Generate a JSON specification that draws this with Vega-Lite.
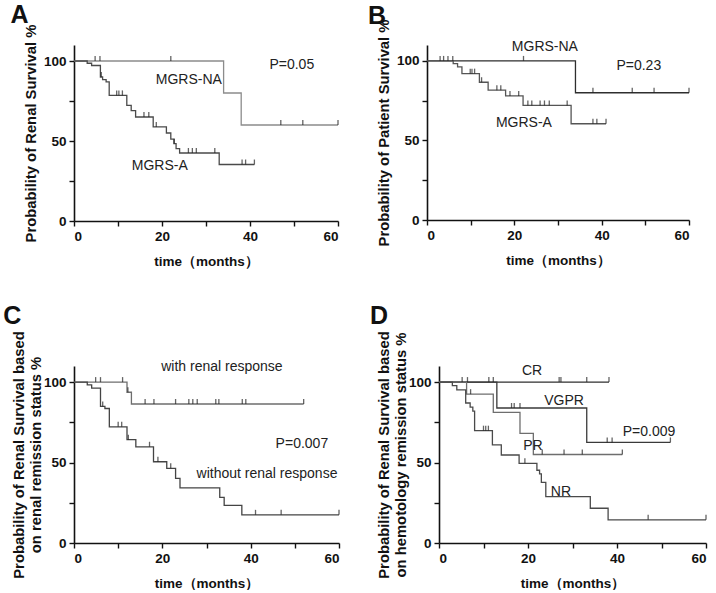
{
  "$schema": "https://vega.github.io/schema/vega-lite/v6.json",
  "padding": {"left": 3, "top": 2, "right": 0, "bottom": 0},
  "background": "white",
  "config": {
    "font": "Liberation Sans",
    "view": {"stroke": null},
    "axis": {
      "grid": false,
      "domainColor": "#111",
      "domainWidth": 1.6,
      "tickColor": "#111",
      "tickWidth": 1.4,
      "tickSize": 5,
      "labelFont": "Liberation Sans",
      "labelFontWeight": "bold",
      "labelFontSize": 13.5,
      "labelColor": "#111",
      "titleFont": "Liberation Sans",
      "titleFontWeight": "bold",
      "titleFontSize": 14.8,
      "titleColor": "#111"
    },
    "axisX": {"titleFontSize": 13.5, "labelPadding": 3, "titlePadding": 12},
    "axisY": {"labelPadding": 3, "titlePadding": 5}
  },
  "datasets": {
    "curves": [
      {"panel": "A", "group": "MGRS-NA", "t": 0, "s": 100},
      {"panel": "A", "group": "MGRS-NA", "t": 34, "s": 80},
      {"panel": "A", "group": "MGRS-NA", "t": 38, "s": 60},
      {"panel": "A", "group": "MGRS-NA", "t": 60, "s": 60},
      {"panel": "A", "group": "MGRS-A", "t": 0, "s": 100},
      {"panel": "A", "group": "MGRS-A", "t": 3, "s": 98.6},
      {"panel": "A", "group": "MGRS-A", "t": 4, "s": 97.2},
      {"panel": "A", "group": "MGRS-A", "t": 6, "s": 90},
      {"panel": "A", "group": "MGRS-A", "t": 6.5, "s": 88.3},
      {"panel": "A", "group": "MGRS-A", "t": 7.3, "s": 87},
      {"panel": "A", "group": "MGRS-A", "t": 8, "s": 78.5},
      {"panel": "A", "group": "MGRS-A", "t": 12, "s": 72.3},
      {"panel": "A", "group": "MGRS-A", "t": 13, "s": 69},
      {"panel": "A", "group": "MGRS-A", "t": 14, "s": 65},
      {"panel": "A", "group": "MGRS-A", "t": 18, "s": 58.8},
      {"panel": "A", "group": "MGRS-A", "t": 21, "s": 55},
      {"panel": "A", "group": "MGRS-A", "t": 22, "s": 51.2},
      {"panel": "A", "group": "MGRS-A", "t": 22.7, "s": 48.3},
      {"panel": "A", "group": "MGRS-A", "t": 23.2, "s": 45.2},
      {"panel": "A", "group": "MGRS-A", "t": 24, "s": 42.5},
      {"panel": "A", "group": "MGRS-A", "t": 33, "s": 35.3},
      {"panel": "A", "group": "MGRS-A", "t": 41, "s": 35.3},

      {"panel": "B", "group": "MGRS-NA", "t": 0, "s": 100},
      {"panel": "B", "group": "MGRS-NA", "t": 34, "s": 80},
      {"panel": "B", "group": "MGRS-NA", "t": 60, "s": 80},
      {"panel": "B", "group": "MGRS-A", "t": 0, "s": 100},
      {"panel": "B", "group": "MGRS-A", "t": 6, "s": 98.3},
      {"panel": "B", "group": "MGRS-A", "t": 7, "s": 96.2},
      {"panel": "B", "group": "MGRS-A", "t": 8, "s": 92},
      {"panel": "B", "group": "MGRS-A", "t": 12, "s": 86.6},
      {"panel": "B", "group": "MGRS-A", "t": 14, "s": 81.6},
      {"panel": "B", "group": "MGRS-A", "t": 18, "s": 78},
      {"panel": "B", "group": "MGRS-A", "t": 22, "s": 72},
      {"panel": "B", "group": "MGRS-A", "t": 33, "s": 60.5},
      {"panel": "B", "group": "MGRS-A", "t": 41, "s": 60.5},

      {"panel": "C", "group": "with", "t": 0, "s": 100},
      {"panel": "C", "group": "with", "t": 12, "s": 93.7},
      {"panel": "C", "group": "with", "t": 13, "s": 86.4},
      {"panel": "C", "group": "with", "t": 52, "s": 86.4},
      {"panel": "C", "group": "without", "t": 0, "s": 100},
      {"panel": "C", "group": "without", "t": 3, "s": 98.3},
      {"panel": "C", "group": "without", "t": 4, "s": 96.3},
      {"panel": "C", "group": "without", "t": 6, "s": 84.9},
      {"panel": "C", "group": "without", "t": 7, "s": 83.6},
      {"panel": "C", "group": "without", "t": 8, "s": 72.2},
      {"panel": "C", "group": "without", "t": 12, "s": 64.2},
      {"panel": "C", "group": "without", "t": 14, "s": 59.8},
      {"panel": "C", "group": "without", "t": 18, "s": 50.5},
      {"panel": "C", "group": "without", "t": 21, "s": 46.4},
      {"panel": "C", "group": "without", "t": 23, "s": 40.2},
      {"panel": "C", "group": "without", "t": 24, "s": 34.2},
      {"panel": "C", "group": "without", "t": 33, "s": 28.4},
      {"panel": "C", "group": "without", "t": 34, "s": 23.4},
      {"panel": "C", "group": "without", "t": 38, "s": 17.5},
      {"panel": "C", "group": "without", "t": 60, "s": 17.5},

      {"panel": "D", "group": "CR", "t": 0, "s": 100},
      {"panel": "D", "group": "CR", "t": 38.2, "s": 100},
      {"panel": "D", "group": "VGPR", "t": 0, "s": 100},
      {"panel": "D", "group": "VGPR", "t": 13, "s": 83.9},
      {"panel": "D", "group": "VGPR", "t": 33.2, "s": 62.5},
      {"panel": "D", "group": "VGPR", "t": 52, "s": 62.5},
      {"panel": "D", "group": "PR", "t": 0, "s": 100},
      {"panel": "D", "group": "PR", "t": 6.2, "s": 92.5},
      {"panel": "D", "group": "PR", "t": 12.2, "s": 81.2},
      {"panel": "D", "group": "PR", "t": 18.2, "s": 68.1},
      {"panel": "D", "group": "PR", "t": 21.2, "s": 55},
      {"panel": "D", "group": "PR", "t": 41.2, "s": 55},
      {"panel": "D", "group": "NR", "t": 0, "s": 100},
      {"panel": "D", "group": "NR", "t": 3, "s": 97.8},
      {"panel": "D", "group": "NR", "t": 4, "s": 95.2},
      {"panel": "D", "group": "NR", "t": 6, "s": 87},
      {"panel": "D", "group": "NR", "t": 7, "s": 84.5},
      {"panel": "D", "group": "NR", "t": 7.6, "s": 82},
      {"panel": "D", "group": "NR", "t": 8, "s": 69.8},
      {"panel": "D", "group": "NR", "t": 12, "s": 61},
      {"panel": "D", "group": "NR", "t": 14, "s": 54.7},
      {"panel": "D", "group": "NR", "t": 18, "s": 49.5},
      {"panel": "D", "group": "NR", "t": 22, "s": 45.2},
      {"panel": "D", "group": "NR", "t": 22.6, "s": 43},
      {"panel": "D", "group": "NR", "t": 23, "s": 37.7},
      {"panel": "D", "group": "NR", "t": 24, "s": 28.8},
      {"panel": "D", "group": "NR", "t": 34, "s": 21.6},
      {"panel": "D", "group": "NR", "t": 38, "s": 14.4},
      {"panel": "D", "group": "NR", "t": 60, "s": 14.4}
    ],
    "censored": [
      {"panel": "A", "group": "MGRS-NA", "t": 4.8, "s": 100},
      {"panel": "A", "group": "MGRS-NA", "t": 5.9, "s": 100},
      {"panel": "A", "group": "MGRS-NA", "t": 22, "s": 100},
      {"panel": "A", "group": "MGRS-NA", "t": 47, "s": 60},
      {"panel": "A", "group": "MGRS-NA", "t": 52, "s": 60},
      {"panel": "A", "group": "MGRS-NA", "t": 60, "s": 60},
      {"panel": "A", "group": "MGRS-A", "t": 6.2, "s": 90},
      {"panel": "A", "group": "MGRS-A", "t": 9.7, "s": 78.5},
      {"panel": "A", "group": "MGRS-A", "t": 10.2, "s": 78.5},
      {"panel": "A", "group": "MGRS-A", "t": 11, "s": 78.5},
      {"panel": "A", "group": "MGRS-A", "t": 15.9, "s": 65},
      {"panel": "A", "group": "MGRS-A", "t": 17, "s": 65},
      {"panel": "A", "group": "MGRS-A", "t": 18.7, "s": 58.8},
      {"panel": "A", "group": "MGRS-A", "t": 22.8, "s": 48.3},
      {"panel": "A", "group": "MGRS-A", "t": 26, "s": 42.5},
      {"panel": "A", "group": "MGRS-A", "t": 26.9, "s": 42.5},
      {"panel": "A", "group": "MGRS-A", "t": 27.8, "s": 42.5},
      {"panel": "A", "group": "MGRS-A", "t": 32, "s": 42.5},
      {"panel": "A", "group": "MGRS-A", "t": 38.2, "s": 35.3},
      {"panel": "A", "group": "MGRS-A", "t": 39, "s": 35.3},
      {"panel": "A", "group": "MGRS-A", "t": 41, "s": 35.3},

      {"panel": "B", "group": "MGRS-NA", "t": 3, "s": 100},
      {"panel": "B", "group": "MGRS-NA", "t": 3.8, "s": 100},
      {"panel": "B", "group": "MGRS-NA", "t": 4.8, "s": 100},
      {"panel": "B", "group": "MGRS-NA", "t": 5.9, "s": 100},
      {"panel": "B", "group": "MGRS-NA", "t": 22.1, "s": 100},
      {"panel": "B", "group": "MGRS-NA", "t": 38, "s": 80},
      {"panel": "B", "group": "MGRS-NA", "t": 47, "s": 80},
      {"panel": "B", "group": "MGRS-NA", "t": 52, "s": 80},
      {"panel": "B", "group": "MGRS-NA", "t": 60, "s": 80},
      {"panel": "B", "group": "MGRS-A", "t": 9.9, "s": 92},
      {"panel": "B", "group": "MGRS-A", "t": 10.3, "s": 92},
      {"panel": "B", "group": "MGRS-A", "t": 10.9, "s": 92},
      {"panel": "B", "group": "MGRS-A", "t": 12.5, "s": 86.6},
      {"panel": "B", "group": "MGRS-A", "t": 16, "s": 81.6},
      {"panel": "B", "group": "MGRS-A", "t": 16.9, "s": 81.6},
      {"panel": "B", "group": "MGRS-A", "t": 19, "s": 78},
      {"panel": "B", "group": "MGRS-A", "t": 21, "s": 78},
      {"panel": "B", "group": "MGRS-A", "t": 23.1, "s": 72},
      {"panel": "B", "group": "MGRS-A", "t": 24, "s": 72},
      {"panel": "B", "group": "MGRS-A", "t": 25.9, "s": 72},
      {"panel": "B", "group": "MGRS-A", "t": 26.9, "s": 72},
      {"panel": "B", "group": "MGRS-A", "t": 28, "s": 72},
      {"panel": "B", "group": "MGRS-A", "t": 32.1, "s": 72},
      {"panel": "B", "group": "MGRS-A", "t": 38, "s": 60.5},
      {"panel": "B", "group": "MGRS-A", "t": 38.9, "s": 60.5},
      {"panel": "B", "group": "MGRS-A", "t": 41, "s": 60.5},

      {"panel": "C", "group": "with", "t": 4.9, "s": 100},
      {"panel": "C", "group": "with", "t": 6, "s": 100},
      {"panel": "C", "group": "with", "t": 11, "s": 100},
      {"panel": "C", "group": "with", "t": 12.2, "s": 93.7},
      {"panel": "C", "group": "with", "t": 16.1, "s": 86.4},
      {"panel": "C", "group": "with", "t": 18.1, "s": 86.4},
      {"panel": "C", "group": "with", "t": 23, "s": 86.4},
      {"panel": "C", "group": "with", "t": 26, "s": 86.4},
      {"panel": "C", "group": "with", "t": 26.9, "s": 86.4},
      {"panel": "C", "group": "with", "t": 27.9, "s": 86.4},
      {"panel": "C", "group": "with", "t": 32.1, "s": 86.4},
      {"panel": "C", "group": "with", "t": 32.8, "s": 86.4},
      {"panel": "C", "group": "with", "t": 38.1, "s": 86.4},
      {"panel": "C", "group": "with", "t": 38.9, "s": 86.4},
      {"panel": "C", "group": "with", "t": 52, "s": 86.4},
      {"panel": "C", "group": "without", "t": 6.5, "s": 84.9},
      {"panel": "C", "group": "without", "t": 10, "s": 72.2},
      {"panel": "C", "group": "without", "t": 10.8, "s": 72.2},
      {"panel": "C", "group": "without", "t": 12.3, "s": 64.2},
      {"panel": "C", "group": "without", "t": 17.1, "s": 59.8},
      {"panel": "C", "group": "without", "t": 19, "s": 50.5},
      {"panel": "C", "group": "without", "t": 21.9, "s": 46.4},
      {"panel": "C", "group": "without", "t": 41.1, "s": 17.5},
      {"panel": "C", "group": "without", "t": 46.9, "s": 17.5},
      {"panel": "C", "group": "without", "t": 60, "s": 17.5},

      {"panel": "D", "group": "CR", "t": 5.2, "s": 100},
      {"panel": "D", "group": "CR", "t": 6.4, "s": 100},
      {"panel": "D", "group": "CR", "t": 11.2, "s": 100},
      {"panel": "D", "group": "CR", "t": 12.2, "s": 100},
      {"panel": "D", "group": "CR", "t": 27, "s": 100},
      {"panel": "D", "group": "CR", "t": 27.4, "s": 100},
      {"panel": "D", "group": "CR", "t": 33.2, "s": 100},
      {"panel": "D", "group": "CR", "t": 38.2, "s": 100},
      {"panel": "D", "group": "VGPR", "t": 16.3, "s": 83.9},
      {"panel": "D", "group": "VGPR", "t": 16.9, "s": 83.9},
      {"panel": "D", "group": "VGPR", "t": 18.2, "s": 83.9},
      {"panel": "D", "group": "VGPR", "t": 37.8, "s": 62.5},
      {"panel": "D", "group": "VGPR", "t": 38.9, "s": 62.5},
      {"panel": "D", "group": "VGPR", "t": 52, "s": 62.5},
      {"panel": "D", "group": "PR", "t": 7.1, "s": 92.5},
      {"panel": "D", "group": "PR", "t": 23.2, "s": 55},
      {"panel": "D", "group": "PR", "t": 28.1, "s": 55},
      {"panel": "D", "group": "PR", "t": 32.2, "s": 55},
      {"panel": "D", "group": "PR", "t": 41.2, "s": 55},
      {"panel": "D", "group": "NR", "t": 10, "s": 69.8},
      {"panel": "D", "group": "NR", "t": 10.5, "s": 69.8},
      {"panel": "D", "group": "NR", "t": 11.1, "s": 69.8},
      {"panel": "D", "group": "NR", "t": 19.3, "s": 49.5},
      {"panel": "D", "group": "NR", "t": 47, "s": 14.4},
      {"panel": "D", "group": "NR", "t": 60, "s": 14.4}
    ],
    "labels": [
      {"panel": "A", "label": "MGRS-NA", "t": 26.1, "s": 88},
      {"panel": "A", "label": "MGRS-A", "t": 19.5, "s": 34.4},
      {"panel": "A", "label": "P=0.05", "t": 49.5, "s": 97.5},
      {"panel": "B", "label": "MGRS-NA", "t": 27, "s": 109},
      {"panel": "B", "label": "MGRS-A", "t": 22.2, "s": 61},
      {"panel": "B", "label": "P=0.23", "t": 48.5, "s": 96.9},
      {"panel": "C", "label": "with renal response", "t": 33.5, "s": 109.5},
      {"panel": "C", "label": "P=0.007", "t": 51.6, "s": 61.5},
      {"panel": "C", "label": "without renal response", "t": 43.7, "s": 42.9},
      {"panel": "D", "label": "CR", "t": 20.9, "s": 107},
      {"panel": "D", "label": "VGPR", "t": 28.1, "s": 88.5},
      {"panel": "D", "label": "P=0.009", "t": 47.2, "s": 69},
      {"panel": "D", "label": "PR", "t": 21.1, "s": 60.5},
      {"panel": "D", "label": "NR", "t": 27.4, "s": 31.7}
    ]
  },
  "columns": 1,
  "align": "none",
  "spacing": 36,
  "resolve": {"scale": {"color": "independent"}},
  "concat": [
    {
      "columns": 2,
      "align": "none",
      "spacing": 26,
      "resolve": {"scale": {"color": "independent"}},
      "concat": [
        {
          "width": 264,
          "height": 176,
          "layer": [
            {
              "data": {"name": "curves"},
              "transform": [{"filter": "datum.panel === 'A'"}],
              "mark": {"type": "line", "interpolate": "step-after", "strokeWidth": 1.3},
              "encoding": {
                "x": {"field": "t", "type": "quantitative", "scale": {"domain": [0, 60], "nice": false}, "axis": {"title": "time（months）", "values": [0, 10, 20, 30, 40, 50, 60], "labelExpr": "datum.value % 20 === 0 ? datum.label : ''"}},
                "y": {"field": "s", "type": "quantitative", "scale": {"domain": [0, 110], "nice": false}, "axis": {"title": "Probability of Renal Survival %", "values": [0, 25, 50, 75, 100], "labelExpr": "datum.value % 50 === 0 ? datum.label : ''"}},
                "color": {"field": "group", "type": "nominal", "scale": {"domain": ["MGRS-NA", "MGRS-A"], "range": ["#8c8c8c", "#4a4a4a"]}, "legend": null}
              }
            },
            {
              "data": {"name": "censored"},
              "transform": [{"filter": "datum.panel === 'A'"}],
              "mark": {"type": "tick", "orient": "vertical", "size": 5, "thickness": 1.3, "yOffset": -2.5},
              "encoding": {
                "x": {"field": "t", "type": "quantitative"},
                "y": {"field": "s", "type": "quantitative"},
                "color": {"value": "#222"}
              }
            },
            {
              "data": {"name": "labels"},
              "transform": [{"filter": "datum.panel === 'A'"}],
              "mark": {"type": "text", "fontSize": 14, "color": "#222", "align": "center", "baseline": "middle"},
              "encoding": {
                "x": {"field": "t", "type": "quantitative"},
                "y": {"field": "s", "type": "quantitative"},
                "text": {"field": "label"}
              }
            },
            {
              "data": {"values": [{"panel": "A"}]},
              "mark": {"type": "text", "fontSize": 25, "fontWeight": "bold", "color": "#111", "align": "center", "baseline": "alphabetic"},
              "encoding": {
                "x": {"datum": -12.4},
                "y": {"datum": 123.8},
                "text": {"field": "panel"}
              }
            }
          ]
        },
        {
          "width": 262,
          "height": 175,
          "layer": [
            {
              "data": {"name": "curves"},
              "transform": [{"filter": "datum.panel === 'B'"}],
              "mark": {"type": "line", "interpolate": "step-after", "strokeWidth": 1.3},
              "encoding": {
                "x": {"field": "t", "type": "quantitative", "scale": {"domain": [0, 60], "nice": false}, "axis": {"title": "time（months）", "values": [0, 10, 20, 30, 40, 50, 60], "labelExpr": "datum.value % 20 === 0 ? datum.label : ''"}},
                "y": {"field": "s", "type": "quantitative", "scale": {"domain": [0, 110], "nice": false}, "axis": {"title": "Probability of Patient Survival %", "values": [0, 25, 50, 75, 100], "labelExpr": "datum.value % 50 === 0 ? datum.label : ''"}},
                "color": {"field": "group", "type": "nominal", "scale": {"domain": ["MGRS-NA", "MGRS-A"], "range": ["#2e2e2e", "#555555"]}, "legend": null}
              }
            },
            {
              "data": {"name": "censored"},
              "transform": [{"filter": "datum.panel === 'B'"}],
              "mark": {"type": "tick", "orient": "vertical", "size": 5, "thickness": 1.3, "yOffset": -2.5},
              "encoding": {
                "x": {"field": "t", "type": "quantitative"},
                "y": {"field": "s", "type": "quantitative"},
                "color": {"value": "#222"}
              }
            },
            {
              "data": {"name": "labels"},
              "transform": [{"filter": "datum.panel === 'B'"}],
              "mark": {"type": "text", "fontSize": 14, "color": "#222", "align": "center", "baseline": "middle"},
              "encoding": {
                "x": {"field": "t", "type": "quantitative"},
                "y": {"field": "s", "type": "quantitative"},
                "text": {"field": "label"}
              }
            },
            {
              "data": {"values": [{"panel": "B"}]},
              "mark": {"type": "text", "fontSize": 25, "fontWeight": "bold", "color": "#111", "align": "center", "baseline": "alphabetic"},
              "encoding": {
                "x": {"datum": -11.45},
                "y": {"datum": 123.2},
                "text": {"field": "panel"}
              }
            }
          ]
        }
      ]
    },
    {
      "columns": 2,
      "align": "none",
      "spacing": 27,
      "resolve": {"scale": {"color": "independent"}},
      "concat": [
        {
          "width": 265,
          "height": 177,
          "layer": [
            {
              "data": {"name": "curves"},
              "transform": [{"filter": "datum.panel === 'C'"}],
              "mark": {"type": "line", "interpolate": "step-after", "strokeWidth": 1.3},
              "encoding": {
                "x": {"field": "t", "type": "quantitative", "scale": {"domain": [0, 60], "nice": false}, "axis": {"title": "time（months）", "values": [0, 10, 20, 30, 40, 50, 60], "labelExpr": "datum.value % 20 === 0 ? datum.label : ''"}},
                "y": {"field": "s", "type": "quantitative", "scale": {"domain": [0, 110], "nice": false}, "axis": {"title": ["Probability of Renal Survival based", "on renal remission status %"], "titlePadding": 0, "values": [0, 25, 50, 75, 100], "labelExpr": "datum.value % 50 === 0 ? datum.label : ''"}},
                "color": {"field": "group", "type": "nominal", "scale": {"domain": ["with", "without"], "range": ["#6e6e6e", "#444444"]}, "legend": null}
              }
            },
            {
              "data": {"name": "censored"},
              "transform": [{"filter": "datum.panel === 'C'"}],
              "mark": {"type": "tick", "orient": "vertical", "size": 5, "thickness": 1.3, "yOffset": -2.5},
              "encoding": {
                "x": {"field": "t", "type": "quantitative"},
                "y": {"field": "s", "type": "quantitative"},
                "color": {"value": "#222"}
              }
            },
            {
              "data": {"name": "labels"},
              "transform": [{"filter": "datum.panel === 'C'"}],
              "mark": {"type": "text", "fontSize": 14, "color": "#222", "align": "center", "baseline": "middle"},
              "encoding": {
                "x": {"field": "t", "type": "quantitative"},
                "y": {"field": "s", "type": "quantitative"},
                "text": {"field": "label"}
              }
            },
            {
              "data": {"values": [{"panel": "C"}]},
              "mark": {"type": "text", "fontSize": 25, "fontWeight": "bold", "color": "#111", "align": "center", "baseline": "alphabetic"},
              "encoding": {
                "x": {"datum": -14.0},
                "y": {"datum": 136},
                "text": {"field": "panel"}
              }
            }
          ]
        },
        {
          "width": 267,
          "height": 177,
          "layer": [
            {
              "data": {"name": "curves"},
              "transform": [{"filter": "datum.panel === 'D'"}],
              "mark": {"type": "line", "interpolate": "step-after", "strokeWidth": 1.3},
              "encoding": {
                "x": {"field": "t", "type": "quantitative", "scale": {"domain": [0, 60], "nice": false}, "axis": {"title": "time（months）", "values": [0, 10, 20, 30, 40, 50, 60], "labelExpr": "datum.value % 20 === 0 ? datum.label : ''"}},
                "y": {"field": "s", "type": "quantitative", "scale": {"domain": [0, 110], "nice": false}, "axis": {"title": ["Probability of Renal Survival based", "on hemotology remission status %"], "titlePadding": 0, "values": [0, 25, 50, 75, 100], "labelExpr": "datum.value % 50 === 0 ? datum.label : ''"}},
                "color": {"field": "group", "type": "nominal", "scale": {"domain": ["CR", "VGPR", "PR", "NR"], "range": ["#2e2e2e", "#3a3a3a", "#6e6e6e", "#4a4a4a"]}, "legend": null}
              }
            },
            {
              "data": {"name": "censored"},
              "transform": [{"filter": "datum.panel === 'D'"}],
              "mark": {"type": "tick", "orient": "vertical", "size": 5, "thickness": 1.3, "yOffset": -2.5},
              "encoding": {
                "x": {"field": "t", "type": "quantitative"},
                "y": {"field": "s", "type": "quantitative"},
                "color": {"value": "#222"}
              }
            },
            {
              "data": {"name": "labels"},
              "transform": [{"filter": "datum.panel === 'D'"}],
              "mark": {"type": "text", "fontSize": 14, "color": "#222", "align": "center", "baseline": "middle"},
              "encoding": {
                "x": {"field": "t", "type": "quantitative"},
                "y": {"field": "s", "type": "quantitative"},
                "text": {"field": "label"}
              }
            },
            {
              "data": {"values": [{"panel": "D"}]},
              "mark": {"type": "text", "fontSize": 25, "fontWeight": "bold", "color": "#111", "align": "center", "baseline": "alphabetic"},
              "encoding": {
                "x": {"datum": -13.5},
                "y": {"datum": 136},
                "text": {"field": "panel"}
              }
            }
          ]
        }
      ]
    }
  ]
}
